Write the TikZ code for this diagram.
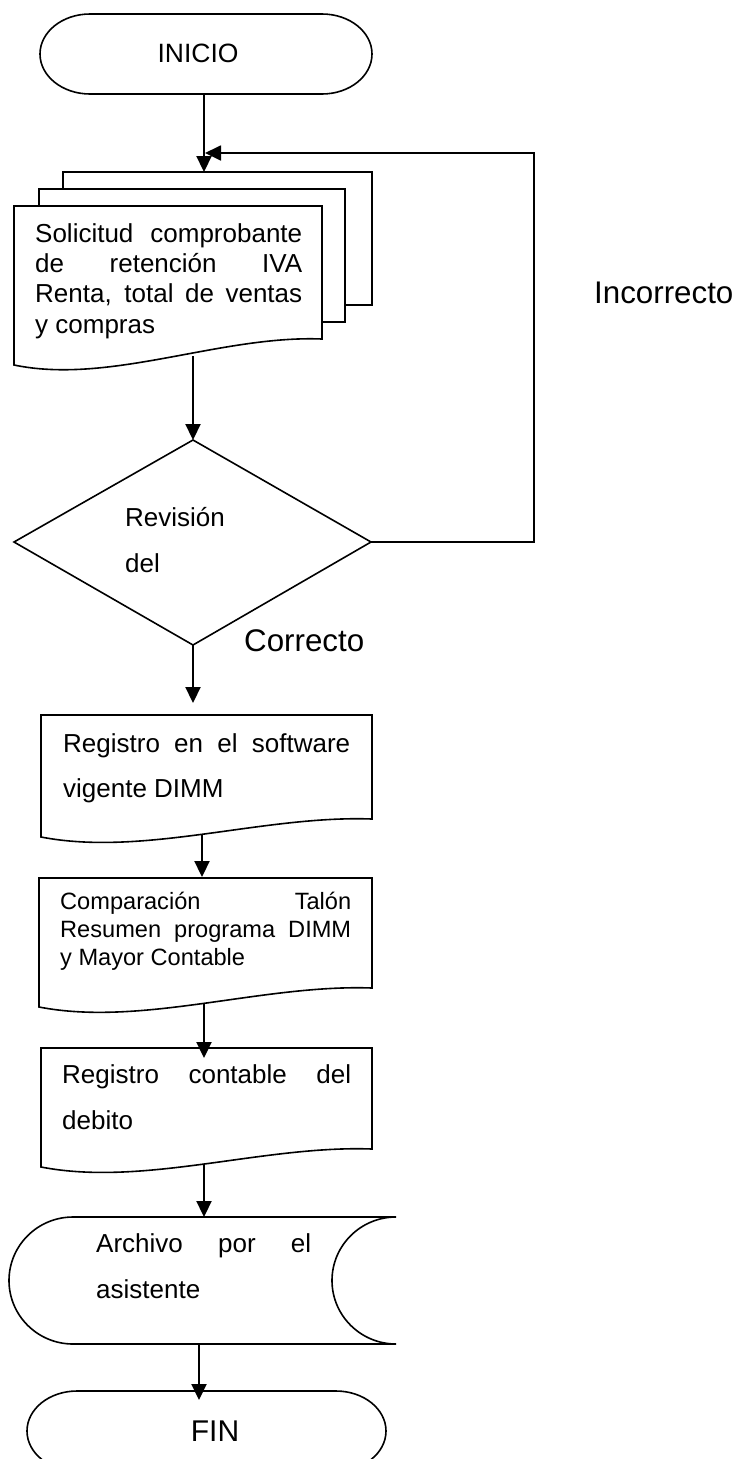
\documentclass[tikz,border=0pt]{standalone}
\usepackage{fontspec}
\setmainfont{Liberation Sans}
\usetikzlibrary{arrows.meta}
% a text block whose baseline is its first line
\newcommand{\flowblock}[4]{\parbox[t]{#1}{\fontsize{#2}{#3}\selectfont #4}}
% a fully justified line
\newcommand{\jline}[2]{\makebox[#1][s]{#2}}
\begin{document}
\begin{tikzpicture}[x=1pt,y=-1pt,
  outline/.style={line width=1.6pt, draw=black, fill=white, line join=miter},
  flow/.style={line width=2.2pt, -{Triangle[width=15pt,length=16pt]}},
  txt/.style={inner sep=0pt, anchor=base west},
  ctxt/.style={inner sep=0pt, anchor=base},
]
\useasboundingbox (0,0) rectangle (738,1459);
\clip (0,0) rectangle (738,1459);

% ---- start terminator
\draw[outline] (90,14) -- (322,14)
  .. controls (349.6,14) and (372,31.9) .. (372,54)
  .. controls (372,76.1) and (349.6,94) .. (322,94) -- (90,94)
  .. controls (62.4,94) and (40,76.1) .. (40,54)
  .. controls (40,31.9) and (62.4,14) .. (90,14) -- cycle;
\node[ctxt] (inicio) at (198,62) {\fontsize{26.5}{30}\selectfont INICIO};

% ---- stack of documents
\draw[outline] (63,172) rectangle (372,305);
\draw[outline] (39,189) rectangle (345,322);
\draw[outline] (14,206) -- (322,206) -- (322,339)
  .. controls (220,335) and (110,385) .. (14,365) -- cycle;
\node[txt] (solicitud) at (35,242) {\flowblock{267pt}{26}{30.4}{%
  \jline{267pt}{Solicitud comprobante}\\
  \jline{267pt}{de retención IVA}\\
  \jline{267pt}{Renta, total de ventas}\\
  y compras}};

% ---- decision
\draw[outline] (193,440) -- (371,542) -- (193,645) -- (14,542) -- cycle;
\node[txt] (revision) at (125,526) {\flowblock{120pt}{26}{46}{Revisión\\ del}};
\node[txt] (correcto) at (244,651) {\fontsize{31.3}{36}\selectfont Correcto};
\node[txt] (incorrecto) at (594,303) {\fontsize{31.3}{36}\selectfont Incorrecto};

% ---- register in software
\draw[outline] (41,715) -- (372,715) -- (372,819)
  .. controls (263,815) and (144,857) .. (41,837) -- cycle;
\node[txt] (registro) at (63,752) {\flowblock{287pt}{26}{45}{%
  \jline{287pt}{Registro en el software}\\
  vigente DIMM}};

% ---- comparison
\draw[outline] (39,878) -- (372,878) -- (372,988)
  .. controls (262,984) and (142,1027) .. (39,1007) -- cycle;
\node[txt] (comparacion) at (60,909) {\flowblock{291pt}{23.6}{28}{%
  \jline{291pt}{Comparación Talón}\\
  \jline{291pt}{Resumen programa DIMM}\\
  y Mayor Contable}};

% ---- accounting entry
\draw[outline] (41,1048) -- (372,1048) -- (372,1149)
  .. controls (263,1145) and (144,1187) .. (41,1167) -- cycle;
\node[txt] (contable) at (62,1083) {\flowblock{289pt}{26}{46}{%
  \jline{289pt}{Registro contable del}\\
  debito}};

% ---- stored data
\draw[outline] (73,1217) -- (396,1217)
  .. controls (360.7,1217) and (332,1245.4) .. (332,1280.5)
  .. controls (332,1315.6) and (360.7,1344) .. (396,1344) -- (73,1344)
  .. controls (37.7,1344) and (9,1315.6) .. (9,1280.5)
  .. controls (9,1245.4) and (37.7,1217) .. (73,1217) -- cycle;
\node[txt] (archivo) at (96,1252) {\flowblock{215pt}{26}{46}{%
  \jline{215pt}{Archivo por el}\\
  asistente}};

% ---- end terminator
\draw[outline] (77,1391) -- (336,1391)
  .. controls (363.6,1391) and (386,1408.9) .. (386,1431)
  .. controls (386,1453.1) and (363.6,1471) .. (336,1471) -- (77,1471)
  .. controls (49.4,1471) and (27,1453.1) .. (27,1431)
  .. controls (27,1408.9) and (49.4,1391) .. (77,1391) -- cycle;
\node[ctxt] (fin) at (215,1441) {\fontsize{30}{34}\selectfont FIN};

% ---- connection points
\coordinate (inicio-s) at (204,94);
\coordinate (stack-n) at (204,172);
\coordinate (doc-s) at (193,356);
\coordinate (dec-n) at (193,440);
\coordinate (dec-s) at (193,645);
\coordinate (dec-e) at (371,542);
\coordinate (loop-se) at (534,542);
\coordinate (loop-ne) at (534,153);
\coordinate (loop-in) at (205,153);
\coordinate (reg-n) at (193,703);
\coordinate (reg-s) at (202,834);
\coordinate (cmp-n) at (202,877);
\coordinate (cmp-s) at (204,1003);
\coordinate (cnt-n) at (204,1058);
\coordinate (cnt-s) at (204,1164);
\coordinate (arc-n) at (204,1217);
\coordinate (arc-s) at (199,1344);
\coordinate (fin-n) at (199,1400);

% ---- connectors
\draw[flow] (inicio-s) -- (stack-n);
\draw[flow, line width=1.8pt] (dec-e) -- (loop-se) -- (loop-ne) -- (loop-in);
\draw[flow] (doc-s) -- (dec-n);
\draw[flow] (dec-s) -- (reg-n);
\draw[flow] (reg-s) -- (cmp-n);
\draw[flow] (cmp-s) -- (cnt-n);
\draw[flow] (cnt-s) -- (arc-n);
\draw[flow] (arc-s) -- (fin-n);
\end{tikzpicture}
\end{document}
